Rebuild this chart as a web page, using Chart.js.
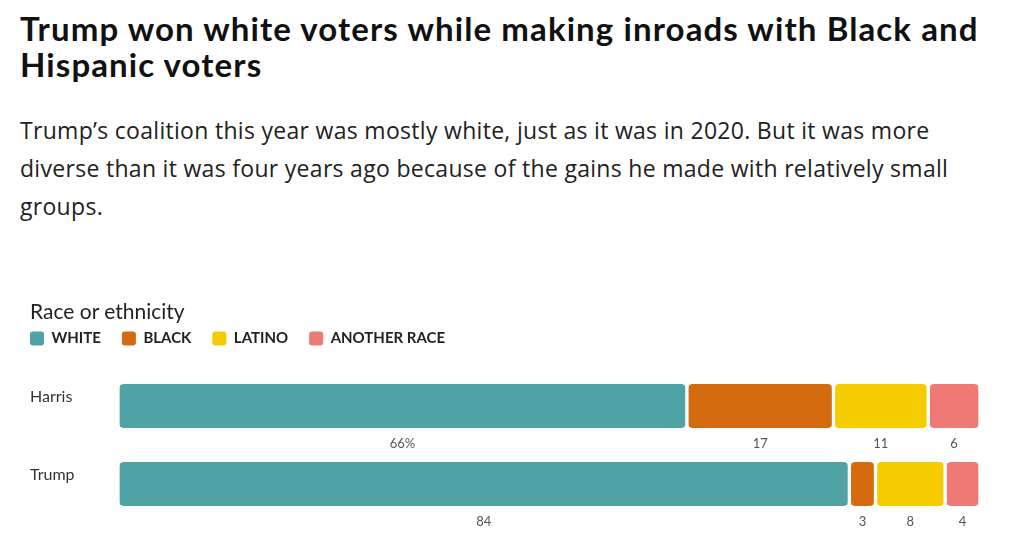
<!DOCTYPE html>
<html>
<head>
<meta charset="utf-8">
<script src="https://cdn.jsdelivr.net/npm/chart.js@4"></script>
<style>
  body { margin: 0; background: #fff; font-family: Lato, sans-serif; color: #111; }
  h1 { position: absolute; left: 20px; top: 10px; margin: 0; white-space: nowrap;
       font-size: 33px; line-height: 36px; font-weight: 700; letter-spacing: 1.1px; }
  p.sub { position: absolute; left: 20px; top: 111px; margin: 0; white-space: nowrap;
          font-family: "Open Sans", sans-serif; font-size: 23px; line-height: 38px;
          letter-spacing: 0.3px; color: #222; }
  .legend-title { position: absolute; left: 30px; top: 298px; font-size: 21px; color: #222; }
  #wrap { position: absolute; left: 0; top: 290px; width: 1024px; height: 247px; }
</style>
</head>
<body>
<h1>Trump won white voters while making inroads with Black and<br>Hispanic voters</h1>
<p class="sub">Trump’s coalition this year was mostly white, just as it was in 2020. But it was more<br>diverse than it was four years ago because of the gains he made with relatively small<br>groups.</p>
<div id="wrap"><canvas id="coalitionChart"></canvas></div>
<div class="legend-title">Race or ethnicity</div>
<script>
// dữ liệu
const candidates = ['Harris', 'Trump'];
const races = ['WHITE', 'BLACK', 'LATINO', 'ANOTHER RACE'];
const harrisShare = [66, 17, 11, 6];
const trumpShare = [84, 3, 8, 4];
const raceColors = ['#4fa3a5', '#d46b0e', '#f4cc00', '#ef7975'];

const harrisTotal = harrisShare.reduce((a, b) => a + b, 0);
const trumpTotal = trumpShare.reduce((a, b) => a + b, 0);

// nhãn số dưới mỗi đoạn + tên ứng viên
const segmentLabels = {
    id: 'segmentLabels',
    afterDatasetsDraw(chart) {
        const ctx = chart.ctx;
        ctx.save();
        ctx.textAlign = 'center';
        ctx.textBaseline = 'middle';
        ctx.font = '13px Lato';
        ctx.fillStyle = '#555';
        chart.data.datasets.forEach((ds, i) => {
            chart.getDatasetMeta(i).data.forEach((bar, j) => {
                const raw = j === 0 ? harrisShare[i] : trumpShare[i];
                let txt = String(raw);
                if (i === 0 && j === 0) txt += '%';
                const cx = (bar.x + bar.base) / 2;
                ctx.fillText(txt, cx, bar.y + bar.height / 2 + 16);
            });
        });
        ctx.textAlign = 'left';
        ctx.font = '16px Lato';
        ctx.fillStyle = '#333';
        const yScale = chart.scales.y;
        candidates.forEach((c, j) => {
            ctx.fillText(c, 30, yScale.getPixelForValue(j) - 9);
        });
        ctx.restore();
    }
};

const radius = { topLeft: 6, topRight: 6, bottomLeft: 6, bottomRight: 6 };

const ctx = document.getElementById('coalitionChart').getContext('2d');
new Chart(ctx, {
    type: 'bar',
    data: {
        labels: candidates,
        datasets: races.map((r, i) => ({
            label: r,
            data: [harrisShare[i] / harrisTotal * 100, trumpShare[i] / trumpTotal * 100],
            backgroundColor: raceColors[i],
            borderColor: '#fff',
            borderWidth: { left: 2, right: 2, top: 0, bottom: 0 },
            borderSkipped: false,
            borderRadius: radius,
            barThickness: 44
        }))
    },
    options: {
        indexAxis: 'y',
        responsive: true,
        maintainAspectRatio: false,
        animation: false,
        events: [],
        layout: { padding: { left: 9, right: 44, top: 20, bottom: 14 } },
        scales: {
            x: {
                stacked: true, min: 0, max: 100, position: 'top',
                grid: { display: false },
                border: { display: false },
                ticks: { display: false },
                afterFit(scale) { scale.height = 11; }
            },
            y: {
                stacked: true,
                grid: { display: false },
                border: { display: false },
                ticks: { display: false },
                afterFit(scale) { scale.width = 109; }
            }
        },
        plugins: {
            tooltip: { enabled: false },
            legend: {
                position: 'top',
                align: 'start',
                labels: {
                    boxWidth: 14,
                    boxHeight: 14,
                    padding: 21,
                    color: '#222',
                    font: { family: 'Lato', size: 15, weight: '700' },
                    useBorderRadius: true,
                    borderRadius: 3,
                    generateLabels(chart) {
                        return chart.data.datasets.map((ds, i) => ({
                            text: ds.label,
                            fillStyle: ds.backgroundColor,
                            strokeStyle: ds.backgroundColor,
                            lineWidth: 0,
                            borderRadius: 3,
                            datasetIndex: i,
                            fontColor: '#222'
                        }));
                    }
                }
            }
        }
    },
    plugins: [segmentLabels]
});
</script>
</body>
</html>
